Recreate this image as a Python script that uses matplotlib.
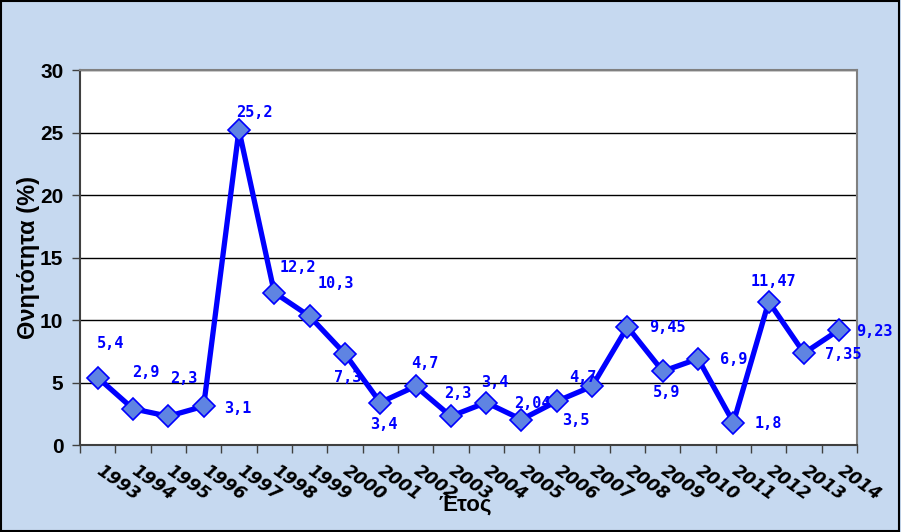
import matplotlib.pyplot as plt
import numpy as np

years = ['1993', '1994', '1995', '1996', '1997', '1998', '1999', '2000', '2001', '2002', '2003',
         '2004', '2005', '2006', '2007', '2008', '2009', '2010', '2011', '2012', '2013', '2014']
values = [5.4, 2.9, 2.3, 3.1, 25.2, 12.2, 10.3, 7.3, 3.4, 4.7, 2.3,
          3.4, 2.04, 3.5, 4.7, 9.45, 5.9, 6.9, 1.8, 11.47, 7.35, 9.23]
labels = ['5,4', '2,9', '2,3', '3,1', '25,2', '12,2', '10,3', '7,3', '3,4', '4,7', '2,3',
          '3,4', '2,04', '3,5', '4,7', '9,45', '5,9', '6,9', '1,8', '11,47', '7,35', '9,23']
# label offsets in pixels (dx, dy with y up)
offsets = [(13, 34), (13, 36), (16, 38), (34, -2), (15, 18), (24, 25), (26, 33), (3, -24),
           (4, -22), (9, 23), (7, 23), (9, 20), (11, 16), (19, -19), (-9, 9), (40, -1),
           (4, -21), (36, -1), (35, -1), (5, 20), (39, -1), (35, -2)]

bg = '#C6D9F0'
fig = plt.figure(figsize=(9.01, 5.32), dpi=100, facecolor=bg)
fig.patches.append(plt.Rectangle((0.001, 0.002), 0.997, 0.996, transform=fig.transFigure,
                                 fill=False, edgecolor='black', linewidth=1.5))
ax = fig.add_axes([0.0888, 0.1635, 0.8624, 0.7049])
ax.set_facecolor('white')

x = np.arange(len(years))
ax.plot(x, values, color='#0000FF', linewidth=3.8, marker='D', markersize=11,
        markerfacecolor='#5F84E2', markeredgecolor='#0000FF', markeredgewidth=1.2, zorder=3)

for xi, v, lab, (dx, dy) in zip(x, values, labels, offsets):
    ax.annotate(lab, (xi, v), xytext=(dx, dy), textcoords='offset pixels',
                ha='center', va='center', color='#0000FF', fontsize=11,
                fontweight='bold', family='DejaVu Sans Mono', zorder=4)

ax.set_xlim(-0.5, len(years) - 0.5)
ax.set_ylim(0, 30)
ax.set_yticks(range(0, 31, 5))
ax.yaxis.grid(True, color='black', linewidth=1)
ax.set_axisbelow(True)

ax.set_xticks(np.arange(-0.5, len(years), 1))
ax.set_xticklabels([])
ax.set_xticks(x, minor=True)
ax.set_xticklabels(years, minor=True, rotation=-35, ha='left', va='center',
                   rotation_mode='anchor', fontsize=12.5, fontweight='bold', style='italic',
                   family='DejaVu Sans')
ax.tick_params(axis='x', which='minor', length=0, pad=17)
ax.tick_params(axis='x', which='major', length=6, width=1, color='#404040')
ax.tick_params(axis='y', length=6, width=1, color='#404040', pad=6)
for t in ax.get_yticklabels():
    t.set_fontsize(15)
    t.set_fontweight('bold')
    t.set_family('Liberation Sans')

for s in ax.spines.values():
    s.set_color('#808080')
    s.set_linewidth(1.5)
ax.spines['left'].set_color('#404040')
ax.spines['bottom'].set_color('#404040')

ax.set_ylabel('Θνητότητα (%)', fontsize=17, fontweight='bold', family='Liberation Sans', labelpad=0)
fig.text(0.516, 0.05, 'Έτος', ha='center', va='center', fontsize=16, fontweight='bold',
         family='Liberation Sans')

fig.savefig('out.png', dpi=100, facecolor=bg)
